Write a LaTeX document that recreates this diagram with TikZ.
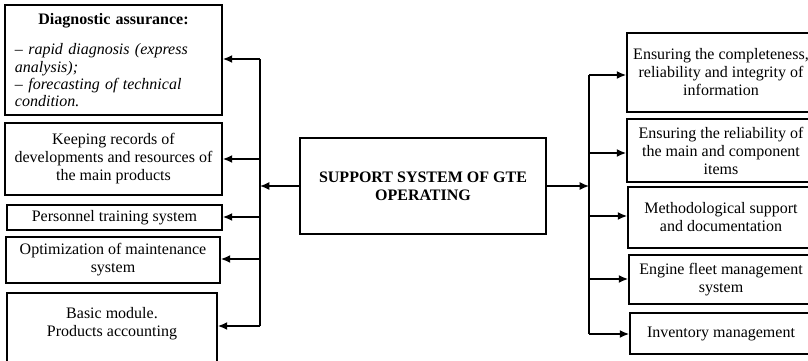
\documentclass[tikz,border=0pt]{standalone}
\usepackage{fontspec}
\setmainfont{Liberation Serif}
\usetikzlibrary{arrows.meta}

\begin{document}
\begin{tikzpicture}[
	x=0.75pt, y=-0.75pt,
	box/.style={
		draw, line width=1.3pt, align=center, inner sep=2pt,
		font=\fontsize{12}{13.5}\selectfont
	},
	feed/.style={
		-{Latex[length=7pt, width=6pt]}, line width=1.1pt
	}
]
	\useasboundingbox (0, 0) rectangle (808, 361);
	% Centre
	\node[box, minimum width=246*0.75pt, minimum height=96*0.75pt,
		font=\fontsize{12}{13.5}\selectfont\bfseries] (core) at (423, 186)
		{SUPPORT SYSTEM OF GTE\\OPERATING};
	% Left side
	\node[box, minimum width=217*0.75pt, minimum height=110*0.75pt,
		text width=197*0.75pt, align=left,
		font=\fontsize{12}{13}\selectfont] (diag) at (113.5, 60)
		{\makebox[\linewidth]{\bfseries Diagnostic assurance:}\\[10pt]
		\itshape -- rapid diagnosis (express\\analysis);\\
		-- forecasting of technical\\condition.};
	\node[box, minimum width=217*0.75pt, minimum height=72*0.75pt] (records) at (113.5, 159)
		{Keeping records of\\developments and resources of\\the main products};
	\node[box, minimum width=215*0.75pt, minimum height=25*0.75pt] (staff) at (114.5, 217.5)
		{Personnel training system};
	\node[box, minimum width=214*0.75pt, minimum height=46*0.75pt] (optim) at (113, 260)
		{Optimization of maintenance\\system};
	\node[box, minimum width=210*0.75pt, anchor=north, inner ysep=11pt,
		text depth=60pt] (basic) at (112, 292)
		{Basic module.\\Products accounting};
	\foreach \i/\y in {1/59, 2/159, 3/217, 4/259, 5/326}
		\coordinate (tap\i) at (260, \y);
	\draw[line width=1.1pt] (tap1) -- (tap5);
	\draw[feed] (core.west) -- (core.west -| tap1);
	\draw[feed] (tap1) -- (tap1 -| diag.east);
	\draw[feed] (tap2) -- (tap2 -| records.east);
	\draw[feed] (tap3) -- (tap3 -| staff.east);
	\draw[feed] (tap4) -- (tap4 -| optim.east);
	\draw[feed] (tap5) -- (tap5 -| basic.east);
	% Right side
	\node[box, minimum width=188*0.75pt, minimum height=79*0.75pt] (info) at (721, 72.5)
		{Ensuring the completeness,\\reliability and integrity of\\information};
	\node[box, minimum width=188*0.75pt, minimum height=63*0.75pt] (items) at (721, 150.5)
		{Ensuring the reliability of\\the main and component\\items};
	\node[box, minimum width=186*0.75pt, minimum height=61*0.75pt] (method) at (721, 217.5)
		{Methodological support\\and documentation};
	\node[box, minimum width=184*0.75pt, minimum height=49*0.75pt] (fleet) at (721, 279.5)
		{Engine fleet management\\system};
	\node[box, minimum width=182*0.75pt, minimum height=41*0.75pt] (stock) at (721, 333.5)
		{Inventory management};
	\foreach \i/\y in {1/75, 2/153, 3/216, 4/279, 5/334}
		\coordinate (rtap\i) at (589, \y);
	\draw[line width=1.1pt] (rtap1) -- (rtap5);
	\draw[feed] (core.east) -- (core.east -| rtap1);
	\draw[feed] (rtap1) -- (rtap1 -| info.west);
	\draw[feed] (rtap2) -- (rtap2 -| items.west);
	\draw[feed] (rtap3) -- (rtap3 -| method.west);
	\draw[feed] (rtap4) -- (rtap4 -| fleet.west);
	\draw[feed] (rtap5) -- (rtap5 -| stock.west);
\end{tikzpicture}
\end{document}
